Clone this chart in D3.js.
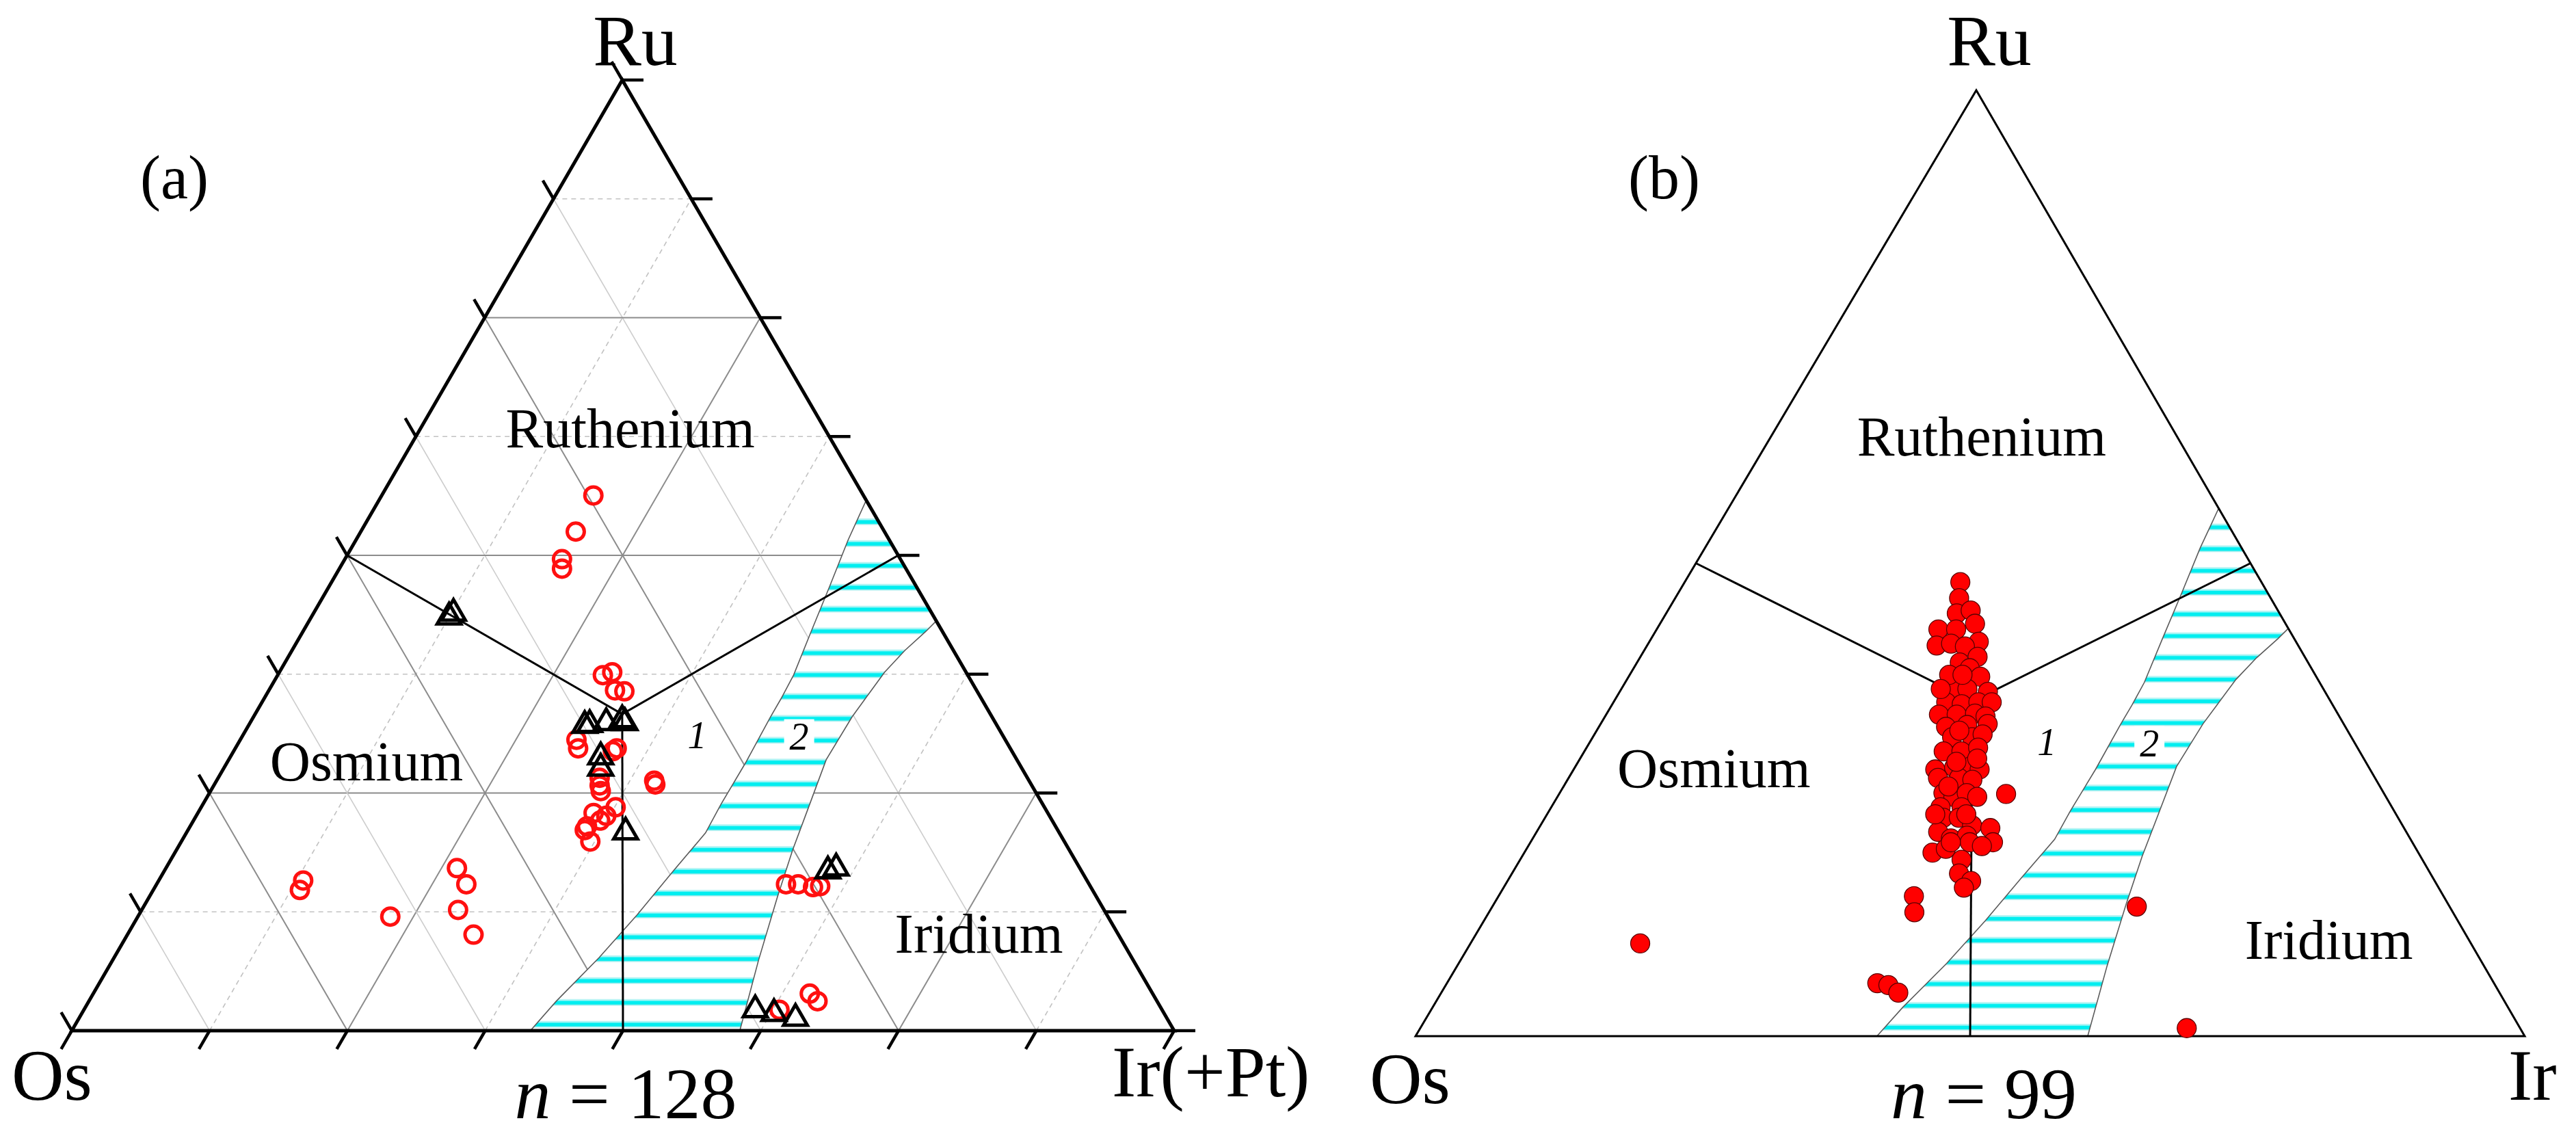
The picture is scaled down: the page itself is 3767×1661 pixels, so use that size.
<!DOCTYPE html>
<html><head><meta charset="utf-8">
<script src="https://cdn.jsdelivr.net/npm/d3@7"></script>
<style>
body{margin:0;background:#fff}
svg{display:block}
svg text{font-family:"Liberation Serif","Tinos","Times New Roman","DejaVu Serif","Noto Serif",serif;fill:#000}
</style>
</head><body>
<svg id="chart" width="3767" height="1661" font-family="Liberation Serif, Times New Roman, DejaVu Serif, serif"></svg>
<script>
// ===== DATA (compositions in %, given as [Ru, Ir]; Os = 100 - Ru - Ir) =====
const vertexLabelsA = ["Os", "Ru", "Ir(+Pt)"];
const vertexLabelsB = ["Os", "Ru", "Ir"];
const fieldNames = ["Osmium", "Ruthenium", "Iridium"];
const fieldLabelPos = [[26.3, 13.6], [61.4, 20.0], [8.2, 78.2]];
const panelTags = ["(a)", "(b)"];
const sampleSizes = ["128", "99"];
const gridEighths = [1, 2, 3, 4, 5, 6, 7];
const tickEighths = [0, 1, 2, 3, 4, 5, 6, 7, 8];

// field boundaries (junction -> edges)
const junctionA = [33.3, 33.3];
const junctionB = [35.4, 32.3];
const boundaryEnds = [[50, 0], [50, 50], [0, 50]];

// hatched field "2"
const bandLeft = [[0, 41.6], [3.1, 42.4], [7.7, 44.0], [12.2, 45.2], [16.9, 46.2], [20.8, 47.1],
  [23.8, 47.0], [28.2, 47.05], [33.0, 46.9], [35.0, 46.9], [37.4, 46.8], [42.0, 46.1],
  [46.8, 45.4], [51.6, 44.65], [55.8, 44.2]];
const bandRight = [[0, 60.6], [7.4, 58.6], [14.0, 57.0], [19.0, 55.9], [23.5, 55.1], [28.5, 54.2],
  [33.0, 54.3], [35.4, 54.6], [37.7, 54.9], [40.0, 55.6], [42.0, 56.5], [43.1, 56.9]];
const fieldNumberPos = [[29.7, 41.9], [29.6, 51.2]];
const fieldNumbers = ["1", "2"];

// panel (a): open red circles
const circlesA = [[56.3,19.2],[52.5,19.5],[49.6,19.7],[48.6,20.2],[15.8,13.1],[14.8,13.3],
  [17.1,26.4],[15.4,28.1],[12.7,28.7],[10.1,31.4],[12.0,22.9],[37.4,29.5],[37.7,30.2],
  [35.8,31.4],[35.7,32.3],[30.6,30.5],[29.7,31.1],[29.7,34.6],[29.4,34.4],[26.6,34.6],
  [25.8,35.0],[25.2,35.4],[26.3,39.7],[25.9,40.0],[22.6,37.2],[23.5,37.6],[22.9,35.9],
  [21.5,36.0],[19.9,37.1],[22.1,36.9],[21.1,36.0],[15.4,58.2],[15.1,59.7],[15.2,60.3],
  [15.4,57.1],[2.2,63.1],[3.9,65.0],[3.1,66.1]];
// panel (a): open black triangles
const trianglesA = [[43.9,12.7],[43.5,12.5],[32.1,30.5],[32.2,30.9],[32.4,32.3],[32.7,33.6],
  [32.4,34.0],[28.8,33.6],[27.6,34.2],[20.9,39.8],[16.8,60.2],[17.1,60.8],[2.2,60.9],
  [1.8,62.8],[1.3,65.0]];
// panel (b): filled red circles
const circlesB = [[48.0,24.85],[46.3,25.6],[44.7,26.2],[45.0,27.3],[43.0,25.4],[43.0,27.0],
  [43.6,28.4],[41.3,26.1],[41.5,27.3],[41.7,29.7],[41.2,28.7],[39.5,29.1],[40.1,30.4],
  [38.9,30.3],[38.0,31.7],[36.7,29.9],[36.7,31.2],[36.4,33.2],[35.3,30.0],[35.1,31.5],
  [35.3,32.9],[35.3,34.1],[34.0,30.0],[34.0,31.6],[34.1,33.2],[33.8,34.3],[32.7,31.3],
  [32.9,33.1],[33.0,34.9],[31.6,32.4],[31.6,34.2],[31.9,35.0],[30.1,32.4],[30.1,34.0],
  [30.5,35.3],[28.2,32.6],[28.4,34.2],[28.6,35.7],[28.2,36.6],[27.3,33.3],[27.3,35.2],
  [27.1,36.5],[25.7,34.6],[25.3,35.7],[25.7,36.7],[24.2,35.1],[24.2,37.0],[23.1,35.9],
  [23.1,37.3],[22.3,38.9],[21.6,36.2],[20.9,37.7],[21.2,39.0],[20.5,39.6],[19.4,36.8],
  [19.8,37.8],[22.0,40.7],[20.5,41.7],[20.1,40.9],[18.65,39.8],[17.2,40.3],[16.4,41.8],
  [15.7,41.5],[38.2,28.8],[38.2,30.0],[36.7,28.8],[32.3,32.7],[29.35,35.8],[26.4,34.7],
  [25.3,37.85],[23.45,35.0],[23.45,37.8],[29.0,34.1],[20.5,37.9],
  [9.8,15.3],[5.6,38.8],[5.4,39.9],[4.6,41.2],[14.8,37.45],[13.1,38.35],[25.6,40.3],
  [13.7,58.1],[0.85,69.1]];

// ===== LAYOUT =====
const FONT = "'Liberation Serif', 'Tinos', 'Times New Roman', 'DejaVu Serif', serif";
const panels = [
  {id:"a", left:[105,1507], right:[1717,1507], apex:[910,117], outlineW:5, grid:true,
   labels:vertexLabelsA, junction:junctionA, tag:panelTags[0], n:sampleSizes[0],
   tagX:205, osDx:-88, osDy:101, irDx:-91, irDy:96, nX:915, stripe:31.95, stripeOff:10.3},
  {id:"b", left:[2070,1515], right:[3692,1515], apex:[2890,132], outlineW:3, grid:false,
   labels:vertexLabelsB, junction:junctionB, tag:panelTags[1], n:sampleSizes[1],
   tagX:2381, osDx:-67, osDy:98, irDx:-24, irDy:93, nX:2901, stripe:31.8, stripeOff:14}
];

const svg = d3.select("#chart");
const defs = svg.append("defs");

function addText(g, x, y, size, str, anchor) {
  return g.append("text").attr("x", x).attr("y", y).attr("font-size", size)
    .attr("font-family", FONT).attr("text-anchor", anchor || "start").text(str);
}

panels.forEach(P => {
  const xS = d3.scaleLinear().domain([0,100]).range([P.left[0], P.right[0]]);
  const yS = d3.scaleLinear().domain([0,100]).range([P.left[1], P.apex[1]]);
  const apexFrac = (P.apex[0]-P.left[0])/(P.right[0]-P.left[0]);
  const T = ([ru, ir]) => [xS(ir + ru*apexFrac), yS(ru)];
  const line = d3.line().x(d=>T(d)[0]).y(d=>T(d)[1]);
  const g = svg.append("g");

  if (P.grid) {
    const gg = g.append("g");
    const styleOf = (k, fam) => {
      if (k % 2 === 0) return {stroke:"#8c8c8c", w:2, dash:null};
      if (fam === "os") return {stroke:"#cdcdcd", w:1.6, dash:null};
      return {stroke:"#c2c2c2", w:1.6, dash:"7,6"};
    };
    gridEighths.forEach(k => {
      const f = k*100/8;
      const segs = [
        {fam:"ru", d:[[f,0],[f,100-f]]},
        {fam:"ir", d:[[0,f],[100-f,f]]},
        {fam:"os", d:[[0,100-f],[100-f,0]]}
      ];
      segs.forEach(s => {
        const st = styleOf(k, s.fam);
        gg.append("path").attr("d", line(s.d)).attr("fill","none")
          .attr("stroke", st.stroke).attr("stroke-width", st.w)
          .attr("stroke-dasharray", st.dash);
      });
    });
  }

  const pid = "stripes-" + P.id;
  const pat = defs.append("pattern").attr("id", pid).attr("patternUnits","userSpaceOnUse")
    .attr("x", 0).attr("y", P.left[1] - P.stripeOff - 4)
    .attr("width", 4000).attr("height", P.stripe);
  pat.append("rect").attr("x",0).attr("y",0).attr("width",4000).attr("height",P.stripe).attr("fill","#fff");
  pat.append("rect").attr("x",0).attr("y",0).attr("width",4000).attr("height",2.5).attr("fill","#b8f4f4");
  pat.append("rect").attr("x",0).attr("y",2.5).attr("width",4000).attr("height",5.5).attr("fill","#00eef0");
  pat.append("rect").attr("x",0).attr("y",8).attr("width",4000).attr("height",1.5).attr("fill","#8eeaea");

  const bandPoly = bandLeft.concat(bandRight.slice().reverse());
  g.append("path").attr("d", line(bandPoly) + "Z").attr("fill", `url(#${pid})`)
    .attr("stroke", "#5a5a5a").attr("stroke-width", 1.6);

  fieldNumbers.forEach((t, i) => {
    const p = T(fieldNumberPos[i]);
    if (i === 1) {
      g.append("rect").attr("x", p[0]-22).attr("y", p[1]-44).attr("width", 44).attr("height", 52).attr("fill","#fff");
    }
    addText(g, p[0], p[1], 56, t, "middle").attr("font-style","italic");
  });

  const corners = [[0,0],[100,0],[0,100]];
  g.append("path").attr("d", line(corners) + "Z").attr("fill","none")
    .attr("stroke","#000").attr("stroke-width", P.outlineW).attr("stroke-linejoin","miter");

  if (P.grid) {
    const L = 31;
    const unit = (a, b) => { const dx=b[0]-a[0], dy=b[1]-a[1], n=Math.hypot(dx,dy); return [dx/n, dy/n]; };
    const dLeft = unit(P.right, P.apex);
    const dRight = unit(P.left, P.right);
    const dBottom = unit(P.apex, P.left);
    const tg = g.append("g").attr("stroke","#000").attr("stroke-width",4.5);
    tickEighths.forEach(k => {
      const f = k*100/8;
      [[T([f,0]), dLeft], [T([f,100-f]), dRight], [T([0,f]), dBottom]].forEach(([p, d]) => {
        tg.append("line").attr("x1",p[0]).attr("y1",p[1]).attr("x2",p[0]+d[0]*L).attr("y2",p[1]+d[1]*L);
      });
    });
  }

  boundaryEnds.forEach(e => {
    g.append("path").attr("d", line([P.junction, e])).attr("stroke","#000")
      .attr("stroke-width", 3).attr("fill","none");
  });

  fieldNames.forEach((t, i) => {
    const p = T(fieldLabelPos[i]);
    addText(g, p[0], p[1], 82, t, "middle");
  });

  addText(g, P.left[0] + P.osDx, P.left[1] + P.osDy, 106, P.labels[0]);
  addText(g, P.apex[0] + 19, 95, 106, P.labels[1], "middle");
  addText(g, P.right[0] + P.irDx, P.right[1] + P.irDy, 106, P.labels[2]);
  addText(g, P.tagX, 290, 90, P.tag);

  const nt = addText(g, P.nX, 1635, 106, null, "middle");
  nt.append("tspan").attr("font-style","italic").text("n");
  nt.append("tspan").text(" = " + P.n);

  if (P.id === "a") {
    g.append("g").selectAll("circle").data(circlesA).join("circle")
      .attr("cx", d=>T(d)[0]).attr("cy", d=>T(d)[1]).attr("r", 12.5)
      .attr("fill","none").attr("stroke","#ff1010").attr("stroke-width",5);
    const sym = d3.symbol().type(d3.symbolTriangle).size(520);
    g.append("g").selectAll("path").data(trianglesA).join("path")
      .attr("d", sym).attr("transform", d=>`translate(${T(d)[0]},${T(d)[1]})`)
      .attr("fill","none").attr("stroke","#000").attr("stroke-width",5).attr("stroke-linejoin","miter");
  } else {
    g.append("g").selectAll("circle").data(circlesB).join("circle")
      .attr("cx", d=>T(d)[0]).attr("cy", d=>T(d)[1]).attr("r", 14)
      .attr("fill","#ff0000").attr("stroke","#5a0000").attr("stroke-width",1.3);
  }
});
</script>
</body></html>
